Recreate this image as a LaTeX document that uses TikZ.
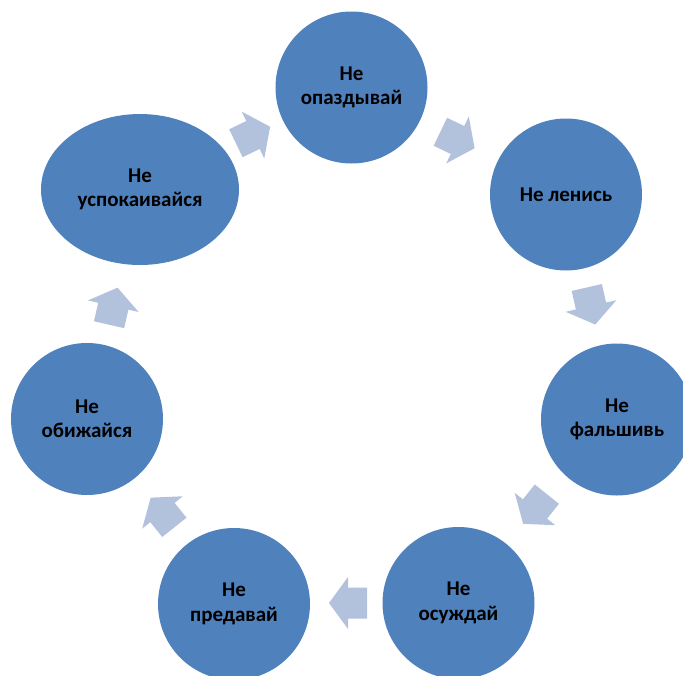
\documentclass[tikz,border=0pt]{standalone}
\usepackage{fontspec}
\setmainfont{Carlito}
\usetikzlibrary{shapes.geometric}
\definecolor{circfill}{HTML}{4F81BD}
\definecolor{arrfill}{HTML}{B2C1DC}
\begin{document}
\begin{tikzpicture}[x=1pt,y=-1pt,
  bubble/.style={fill=circfill, draw=none, inner sep=0pt, text=black,
    font=\bfseries\fontsize{21}{24.5}\selectfont, align=center},
  round/.style={bubble, circle, minimum size=152pt},
  cyarrow/.style={fill=arrfill, draw=none}]
\useasboundingbox (0,0) rectangle (683,675);
\clip (0,0) rectangle (683,675);
% nodes
\node[round] (n1) at (351.5,87.5) {Не\\опаздывай};
\node[round] (n2) at (566,194.5) {Не ленись};
\node[round] (n3) at (617,419.5) {Не\\фальшивь};
\node[round] (n4) at (458.5,603) {Не\\осуждай};
\node[round] (n5) at (234,604) {Не\\предавай};
\node[round] (n6) at (87,419) {Не\\обижайся};
\node[bubble, ellipse, minimum width=198pt, minimum height=151pt] (n7) at (140,189.5) {Не\\успокаивайся};
% cycle arrows
\newcommand\cyarr[3]{\fill[cyarrow, shift={(#1,#2)}, rotate=#3]
  (-19,-15.5) -- (0,-15.5) -- (0,-26) -- (19,0) -- (0,26) -- (0,15.5) -- (-19,15.5) -- cycle;}
\cyarr{253}{135}{25.7}
\cyarr{457.5}{140}{-25.7}
\cyarr{591}{306}{-77.1}
\cyarr{535}{509}{-128.6}
\cyarr{348}{603}{180}
\cyarr{162.5}{512.5}{128.6}
\cyarr{113.3}{306.2}{77.1}
\end{tikzpicture}
\end{document}
